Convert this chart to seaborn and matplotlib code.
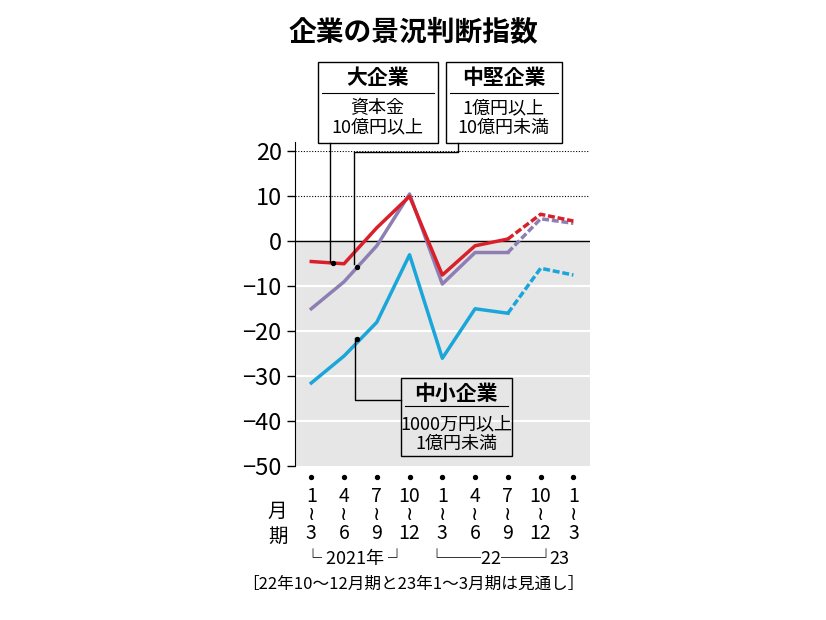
import matplotlib
matplotlib.use("Agg")
import matplotlib.pyplot as plt
import seaborn as sns
import pandas as pd
import numpy as np

plt.rcParams["font.family"] = ["Noto Sans CJK JP", "DejaVu Sans"]

quarters = ["1\n≀\n3", "4\n≀\n6", "7\n≀\n9", "10\n≀\n12", "1\n≀\n3", "4\n≀\n6", "7\n≀\n9", "10\n≀\n12", "1\n≀\n3"]
large = [-4.5, -5, 3, 10, -7.5, -1, 0.5, 6, 4.5]
mid = [-15, -9, -1, 10.5, -9.5, -2.5, -2.5, 5, 4]
small = [-31.5, -25.5, -18, -3, -26, -15, -16, -6, -7.5]
yticks = [20, 10, 0, -10, -20, -30, -40, -50]

fig = plt.figure(figsize=(8.26, 6.2), dpi=100)
ax = fig.add_axes([0.357, 0.248, 0.357, 0.508])
ax.axhspan(-50, 0, color="#e6e6e6", zorder=0)
for y in [-10, -20, -30, -40]:
    ax.axhline(y, color="white", lw=1.5, zorder=1)
for y in [10, 20]:
    ax.axhline(y, color="black", lw=0.8, ls=(0, (1, 1.5)), zorder=1)
ax.axhline(0, color="black", lw=1, zorder=1)

x = np.arange(len(quarters))
for vals, col in [(mid, "#8d7fb3"), (large, "#d9202a"), (small, "#1aa6d9")]:
    df = pd.DataFrame({"x": x[:7], "y": vals[:7]})
    sns.lineplot(data=df, x="x", y="y", ax=ax, color=col, lw=2.5, zorder=3)
    df2 = pd.DataFrame({"x": x[6:], "y": vals[6:]})
    sns.lineplot(data=df2, x="x", y="y", ax=ax, color=col, lw=2.5, ls=(0, (2, 0.8)), zorder=3)

ax.set_xlim(-0.5, 8.5)
ax.set_ylim(-50, 20)
ax.set_yticks(yticks)
ax.set_yticklabels([str(v) if v >= 0 else "−" + str(-v) for v in yticks], fontsize=17)
ax.set_xticks(x)
ax.set_xticklabels(quarters, fontsize=14, linespacing=0.85)
ax.tick_params(axis="x", length=0, pad=14)
ax.tick_params(axis="y", length=6, width=1)
ax.set_xlabel(""); ax.set_ylabel("")
for s in ["top", "right", "bottom"]:
    ax.spines[s].set_visible(False)
ax.spines["left"].set_bounds(-50, 22)
ax.scatter(x, [-52.5] * len(x), color="black", s=8, clip_on=False)

fig.text(0.5, 0.935, "企業の景況判断指数", ha="center", fontsize=20, weight="bold")
fig.text(0.336, 0.155, "月\n期", fontsize=14, ha="center", va="center", linespacing=1.2)

def box(xc, yc, title, sub):
    fig.text(xc, yc, title, ha="center", va="center", fontsize=15, weight="bold")
    fig.text(xc, yc - 0.065, sub, ha="center", va="center", fontsize=13, linespacing=1.1)
box(0.457, 0.875, "大企業", "資本金\n10億円以上")
fig.add_artist(plt.Rectangle((0.385, 0.77), 0.145, 0.13, fill=False, lw=1))
fig.add_artist(plt.Line2D([0.39, 0.525], [0.85, 0.85], lw=0.8, color="black"))
box(0.61, 0.875, "中堅企業", "1億円以上\n10億円未満")
fig.add_artist(plt.Rectangle((0.54, 0.77), 0.14, 0.13, fill=False, lw=1))
fig.add_artist(plt.Line2D([0.545, 0.675], [0.85, 0.85], lw=0.8, color="black"))
box(0.552, 0.365, "中小企業", "1000万円以上\n1億円未満")
fig.add_artist(plt.Rectangle((0.485, 0.265), 0.135, 0.125, fill=False, lw=1))
fig.add_artist(plt.Line2D([0.49, 0.615], [0.345, 0.345], lw=0.8, color="black"))

fig.add_artist(plt.Line2D([0.40, 0.40], [0.77, 0.578], lw=1, color="black"))
ax.scatter([0.65], [-4.8], color="black", s=8, zorder=5)
fig.add_artist(plt.Line2D([0.428, 0.428, 0.555, 0.555], [0.575, 0.755, 0.755, 0.77], lw=1, color="black"))
ax.scatter([1.4], [-5.8], color="black", s=8, zorder=5)
fig.add_artist(plt.Line2D([0.43, 0.43, 0.485], [0.455, 0.355, 0.355], lw=1, color="black"))
ax.scatter([1.4], [-21.8], color="black", s=8, zorder=5)

fig.text(0.43, 0.09, "└ 2021年 ┘", ha="center", fontsize=13)
fig.text(0.595, 0.09, "└──22──┘", ha="center", fontsize=13)
fig.text(0.677, 0.09, "23", ha="center", fontsize=13)
fig.text(0.5, 0.05, "［22年10～12月期と23年1～3月期は見通し］", ha="center", fontsize=12)
fig.savefig("out.png", dpi=100)
